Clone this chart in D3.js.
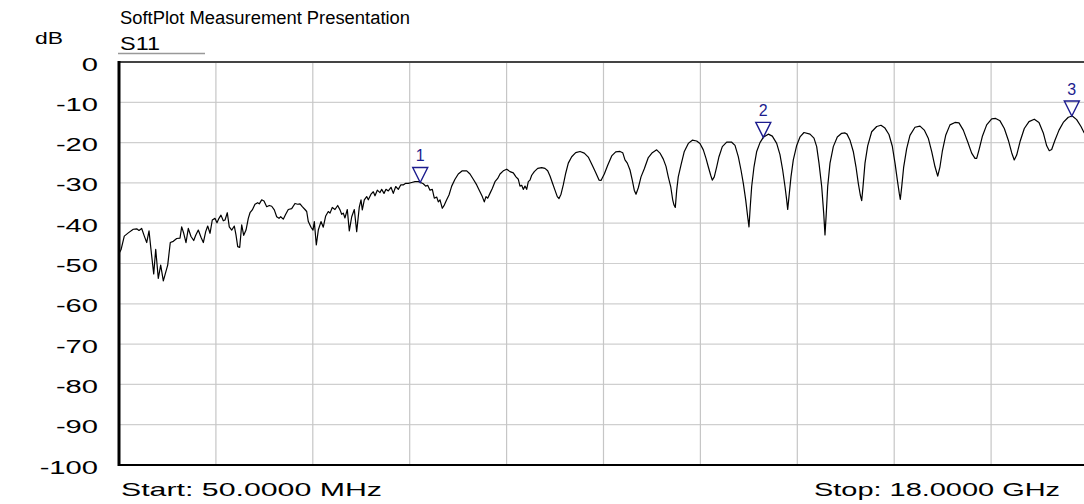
<!DOCTYPE html>
<html>
<head>
<meta charset="utf-8">
<style>
  body { margin: 0; background: #fff; }
  svg text { font-family: "Liberation Sans", Arial, sans-serif; fill: #000; }
</style>
</head>
<body>
<svg id="chart"></svg>
<script src="https://cdn.jsdelivr.net/npm/d3@7/dist/d3.min.js"></script>
<script>
// S11 trace (GHz, dB)
var freqGHz = [
  0.050, 0.087, 0.148, 0.222, 0.315, 0.378, 0.420, 0.470, 0.519, 0.563,
  0.606, 0.643, 0.693, 0.730, 0.778, 0.822, 0.871, 0.952, 1.000, 1.056,
  1.119, 1.180, 1.211, 1.249, 1.291, 1.334, 1.384, 1.434, 1.471, 1.519,
  1.569, 1.612, 1.656, 1.693, 1.736, 1.778, 1.828, 1.865, 1.902, 1.939,
  1.982, 2.014, 2.056, 2.093, 2.138, 2.186, 2.217, 2.249, 2.286, 2.323,
  2.360, 2.403, 2.445, 2.477, 2.519, 2.569, 2.619, 2.649, 2.693, 2.736,
  2.786, 2.834, 2.879, 2.927, 2.971, 3.014, 3.045, 3.093, 3.138, 3.186,
  3.249, 3.310, 3.360, 3.403, 3.445, 3.495, 3.527, 3.557, 3.607, 3.644,
  3.668, 3.705, 3.742, 3.792, 3.834, 3.879, 3.927, 3.959, 4.001, 4.051,
  4.101, 4.144, 4.175, 4.205, 4.236, 4.279, 4.316, 4.361, 4.409, 4.453,
  4.501, 4.533, 4.557, 4.594, 4.638, 4.668, 4.718, 4.761, 4.792, 4.835,
  4.885, 4.916, 4.959, 4.996, 5.039, 5.089, 5.131, 5.176, 5.224, 5.268,
  5.316, 5.361, 5.409, 5.472, 5.533, 5.594, 5.639, 5.687, 5.731, 5.768,
  5.811, 5.854, 5.891, 5.935, 5.965, 5.996, 6.039, 6.076, 6.120, 6.163,
  6.213, 6.274, 6.335, 6.409, 6.491, 6.552, 6.613, 6.676, 6.737, 6.780,
  6.817, 6.848, 6.880, 6.922, 6.965, 7.015, 7.065, 7.108, 7.169, 7.232,
  7.293, 7.354, 7.404, 7.447, 7.478, 7.510, 7.539, 7.571, 7.602, 7.632,
  7.663, 7.695, 7.743, 7.806, 7.880, 7.941, 7.991, 8.034, 8.076, 8.126,
  8.169, 8.201, 8.238, 8.280, 8.325, 8.373, 8.436, 8.510, 8.590, 8.669,
  8.743, 8.817, 8.880, 8.942, 8.979, 9.040, 9.103, 9.177, 9.251, 9.331,
  9.381, 9.423, 9.466, 9.516, 9.558, 9.595, 9.627, 9.670, 9.720, 9.781,
  9.855, 9.929, 10.010, 10.071, 10.133, 10.183, 10.225, 10.270, 10.307, 10.331,
  10.355, 10.381, 10.410, 10.460, 10.522, 10.596, 10.670, 10.751, 10.812, 10.874,
  10.924, 10.966, 11.011, 11.040, 11.077, 11.122, 11.164, 11.226, 11.307, 11.400,
  11.461, 11.522, 11.572, 11.615, 11.659, 11.696, 11.720, 11.744, 11.770, 11.813,
  11.863, 11.924, 11.985, 12.078, 12.152, 12.233, 12.294, 12.344, 12.387, 12.418,
  12.437, 12.461, 12.498, 12.541, 12.604, 12.665, 12.739, 12.850, 12.924, 12.974,
  13.017, 13.067, 13.104, 13.128, 13.152, 13.178, 13.221, 13.282, 13.356, 13.437,
  13.499, 13.536, 13.591, 13.652, 13.702, 13.745, 13.782, 13.808, 13.832, 13.869,
  13.919, 13.993, 14.086, 14.165, 14.239, 14.313, 14.375, 14.425, 14.467, 14.504,
  14.523, 14.549, 14.586, 14.641, 14.702, 14.795, 14.888, 14.967, 15.041, 15.104,
  15.166, 15.216, 15.258, 15.301, 15.364, 15.443, 15.536, 15.610, 15.690, 15.771,
  15.845, 15.907, 15.938, 15.981, 16.042, 16.123, 16.216, 16.290, 16.370, 16.450,
  16.524, 16.586, 16.634, 16.679, 16.740, 16.820, 16.907, 17.005, 17.092, 17.172,
  17.235, 17.283, 17.327, 17.388, 17.463, 17.542, 17.635, 17.709, 17.790, 17.870,
  17.926, 18.000
];
var s11dB = [
  -47.5, -46.6, -43.2, -42.4, -41.5, -41.4, -41.8, -41.3, -43.2, -44.8,
  -41.9, -46.6, -52.6, -46.5, -53.7, -50.4, -54.3, -50.4, -44.8, -44.5,
  -43.8, -43.7, -40.9, -42.5, -44.8, -41.3, -43.3, -44.3, -43.0, -41.7,
  -43.5, -44.8, -42.1, -40.7, -42.5, -39.2, -38.8, -39.9, -38.8, -38.0,
  -39.4, -39.2, -37.4, -40.9, -41.7, -40.7, -42.9, -45.8, -46.0, -40.4,
  -43.0, -41.7, -38.8, -37.4, -36.7, -35.3, -34.9, -35.2, -34.2, -34.5,
  -35.9, -35.6, -35.8, -36.7, -38.4, -38.8, -38.4, -39.0, -37.8, -36.6,
  -36.4, -35.1, -35.3, -35.2, -35.9, -36.6, -37.1, -39.6, -41.0, -41.7,
  -39.6, -45.4, -41.7, -39.6, -41.0, -38.2, -37.1, -37.5, -36.1, -36.6,
  -35.6, -36.7, -37.8, -37.5, -38.7, -36.6, -41.9, -38.4, -36.6, -42.1,
  -36.0, -34.2, -36.7, -34.2, -33.4, -34.2, -32.8, -32.2, -33.2, -31.8,
  -32.4, -31.6, -32.6, -31.6, -32.0, -31.1, -32.6, -30.9, -31.6, -30.5,
  -30.5, -30.1, -30.1, -29.9, -29.7, -29.7, -29.9, -30.2, -30.8, -30.6,
  -31.8, -31.6, -33.8, -33.5, -34.7, -34.2, -36.3, -35.5, -34.2, -33.0,
  -30.8, -29.1, -27.8, -27.0, -27.0, -27.8, -29.1, -30.5, -32.2, -33.4,
  -34.7, -33.4, -33.8, -32.6, -31.4, -29.7, -28.9, -27.8, -27.0, -26.6,
  -27.2, -27.5, -28.5, -29.1, -30.8, -30.6, -31.6, -30.8, -31.6, -29.7,
  -29.3, -28.1, -27.2, -26.4, -26.2, -26.4, -27.0, -28.3, -29.9, -31.8,
  -33.4, -33.9, -32.8, -30.5, -27.6, -25.1, -23.5, -22.5, -22.2, -22.6,
  -23.6, -25.6, -27.4, -29.3, -29.4, -27.8, -25.6, -23.3, -22.3, -22.2,
  -22.5, -24.3, -25.1, -26.8, -29.3, -31.8, -32.8, -31.2, -28.5, -26.5,
  -23.7, -22.5, -21.8, -22.6, -24.1, -25.9, -28.5, -30.9, -34.2, -35.5,
  -36.1, -31.8, -28.5, -25.6, -22.2, -20.2, -19.4, -19.6, -20.2, -21.8,
  -23.9, -26.0, -28.1, -29.3, -28.5, -26.0, -23.5, -21.0, -19.9, -19.9,
  -20.7, -23.5, -26.8, -30.1, -34.2, -38.4, -40.9, -35.8, -30.9, -26.0,
  -22.2, -20.0, -18.7, -17.9, -18.4, -20.2, -23.0, -26.8, -30.9, -34.2,
  -36.6, -33.4, -28.5, -24.3, -20.7, -18.6, -17.5, -17.9, -18.9, -21.0,
  -25.1, -30.9, -37.5, -42.9, -37.5, -30.9, -25.1, -21.0, -18.6, -17.7,
  -17.6, -17.9, -19.4, -22.2, -26.0, -30.1, -33.0, -34.4, -31.0, -25.1,
  -20.8, -17.3, -16.0, -15.7, -16.4, -18.0, -20.9, -25.1, -29.2, -32.6,
  -34.1, -31.0, -26.0, -21.5, -18.2, -16.2, -15.9, -16.9, -18.9, -22.2,
  -26.0, -28.3, -26.0, -22.2, -18.2, -15.6, -15.0, -15.1, -16.9, -19.8,
  -22.6, -23.9, -23.9, -21.8, -18.5, -15.6, -14.1, -14.0, -14.6, -16.5,
  -19.4, -22.5, -24.3, -23.1, -19.8, -16.5, -14.8, -14.2, -15.0, -17.6,
  -20.8, -22.0, -21.7, -19.4, -16.9, -15.0, -13.7, -13.4, -14.3, -16.0,
  -17.5, -19.0
];

var markerLabels = ["1", "2", "3"];
var markerFreq = [5.63, 11.985, 17.70];
var markerDb = [-29.9, -18.7, -13.4];

var yTicks = [0, -10, -20, -30, -40, -50, -60, -70, -80, -90, -100];
var startFreqGHz = 0.05, stopFreqGHz = 18;
var numXDivs = 10;

var titleText = "SoftPlot Measurement Presentation";
var traceName = "S11";
var yUnit = "dB";
var startText = "Start: 50.0000 MHz";
var stopText = "Stop: 18.0000 GHz";

var width = 1084, height = 504;
var plot = {left: 119, top: 62, right: 1088, bottom: 465};

var svg = d3.select("svg#chart")
    .attr("width", width)
    .attr("height", height);

var x = d3.scaleLinear()
    .domain([startFreqGHz, stopFreqGHz])
    .range([plot.left, plot.right]);

var y = d3.scaleLinear()
    .domain([-100, 0])
    .range([plot.bottom, plot.top]);

// stretched text like the original plot software
function fit(sel, w) {
    return sel.attr("textLength", w).attr("lengthAdjust", "spacingAndGlyphs");
}

// grid
var xGrid = d3.range(numXDivs + 1).map(function(i) {
    return startFreqGHz + i * (stopFreqGHz - startFreqGHz) / numXDivs;
});

svg.append("g")
    .selectAll("line.hgrid")
    .data(yTicks.slice(1, -1))
    .enter().append("line")
    .attr("x1", plot.left).attr("x2", plot.right)
    .attr("y1", function(d) { return y(d); })
    .attr("y2", function(d) { return y(d); })
    .attr("stroke", "#cfcfcf")
    .attr("stroke-width", 1.2);

svg.append("g")
    .selectAll("line.vgrid")
    .data(xGrid.slice(1, -1))
    .enter().append("line")
    .attr("x1", function(d) { return x(d); })
    .attr("x2", function(d) { return x(d); })
    .attr("y1", plot.top).attr("y2", plot.bottom)
    .attr("stroke", "#c6c6c6")
    .attr("stroke-width", 1.2);

// frame
svg.append("line")
    .attr("x1", plot.left).attr("x2", plot.right)
    .attr("y1", plot.top).attr("y2", plot.top)
    .attr("stroke", "#444").attr("stroke-width", 2);
svg.append("line")
    .attr("x1", plot.left).attr("x2", plot.right)
    .attr("y1", plot.bottom).attr("y2", plot.bottom)
    .attr("stroke", "#000").attr("stroke-width", 2);
svg.append("line")
    .attr("x1", plot.left).attr("x2", plot.left)
    .attr("y1", plot.top - 1).attr("y2", plot.bottom + 1)
    .attr("stroke", "#000").attr("stroke-width", 3);

// y tick labels (plain hyphen, stretched horizontally)
var sx = 1.62;
var yAxis = svg.append("g")
    .attr("transform", "translate(" + plot.left + ",0)")
    .call(d3.axisLeft(y).tickValues(yTicks).tickSize(0).tickPadding(0)
        .tickFormat(function(d) { return String(d); }));
yAxis.select(".domain").remove();
yAxis.selectAll("text")
    .attr("x", -21 / sx)
    .attr("y", 8)
    .attr("dy", 0)
    .attr("transform", "scale(" + sx + ",1)")
    .style("font-family", "'Liberation Sans', Arial, sans-serif")
    .style("font-size", "18px")
    .attr("fill", "#000");

// trace
var pts = freqGHz.map(function(f, i) { return [f, s11dB[i]]; });
var line = d3.line()
    .x(function(d) { return x(d[0]); })
    .y(function(d) { return y(d[1]); });

svg.append("defs").append("clipPath").attr("id", "clip")
  .append("rect")
    .attr("x", plot.left).attr("y", plot.top)
    .attr("width", plot.right - plot.left).attr("height", plot.bottom - plot.top);

svg.append("path")
    .datum(pts)
    .attr("clip-path", "url(#clip)")
    .attr("fill", "none")
    .attr("stroke", "#000")
    .attr("stroke-width", 1.2)
    .attr("stroke-linejoin", "round")
    .attr("d", line);

// markers
var mk = svg.append("g").selectAll("g.marker")
    .data(markerLabels)
    .enter().append("g")
    .attr("transform", function(d, i) {
        return "translate(" + x(markerFreq[i]) + "," + y(markerDb[i]) + ")";
    });
mk.append("path")
    .attr("d", "M0,0 L-7.5,-15 L7.5,-15 Z")
    .attr("fill", "none")
    .attr("stroke", "#1c1c8e")
    .attr("stroke-width", 1.4);
mk.append("text")
    .attr("x", 0).attr("y", -21)
    .attr("text-anchor", "middle")
    .style("font-size", "16px")
    .style("fill", "#1c1c8e")
    .text(function(d) { return d; });

// texts
fit(svg.append("text").attr("x", 120).attr("y", 24).style("font-size", "18px").text(titleText), 290);
fit(svg.append("text").attr("x", 120).attr("y", 50).style("font-size", "18px").text(traceName), 40);
svg.append("line")
    .attr("x1", 118).attr("x2", 205)
    .attr("y1", 53.5).attr("y2", 53.5)
    .attr("stroke", "#999").attr("stroke-width", 1.5);
fit(svg.append("text").attr("x", 35).attr("y", 44).style("font-size", "16px").text(yUnit), 28);
fit(svg.append("text").attr("x", 121).attr("y", 496).style("font-size", "19px").text(startText), 261);
fit(svg.append("text").attr("x", 814).attr("y", 496).style("font-size", "19px").text(stopText), 246);
</script>
</body>
</html>
